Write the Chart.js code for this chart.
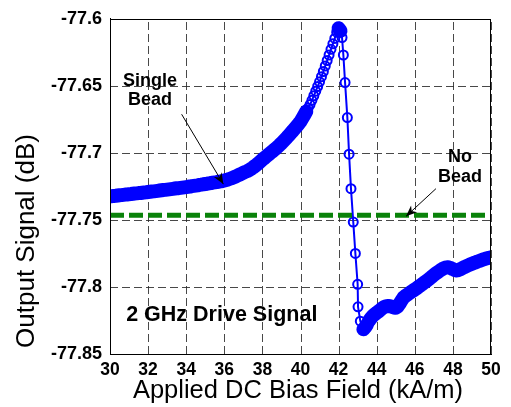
<!DOCTYPE html>
<html>
<head>
<meta charset="utf-8">
<script src="https://cdn.jsdelivr.net/npm/chart.js@4.4.1/dist/chart.umd.min.js"></script>
<style>
html,body{margin:0;padding:0;background:#ffffff;}
#wrap{width:511px;height:407px;position:relative;}
</style>
</head>
<body>
<div id="wrap"><canvas id="c" width="511" height="407"></canvas></div>
<script>
// ---- Data ----
// Applied DC bias field (kA/m)
const fieldX = [
  30.0,30.1,30.2,30.3,30.4,30.5,30.6,30.7,30.8,30.9,
  31.0,31.1,31.2,31.3,31.4,31.5,31.6,31.7,31.8,31.9,
  32.0,32.1,32.2,32.3,32.4,32.5,32.6,32.7,32.8,32.9,
  33.0,33.1,33.2,33.3,33.4,33.5,33.6,33.7,33.8,33.9,
  34.0,34.1,34.2,34.3,34.4,34.5,34.6,34.7,34.8,34.9,
  35.0,35.1,35.2,35.3,35.4,35.5,35.6,35.7,35.8,35.9,
  36.0,36.1,36.2,36.3,36.4,36.5,36.6,36.7,36.8,36.9,
  37.0,37.1,37.2,37.3,37.4,37.5,37.6,37.7,37.8,37.9,
  38.0,38.1,38.2,38.3,38.4,38.5,38.6,38.7,38.8,38.9,
  39.0,39.1,39.2,39.3,39.4,39.5,39.6,39.7,39.8,39.9,
  40.0,40.1,40.2,40.3,40.4,40.5,40.6,40.7,40.8,40.9,
  41.0,41.1,41.2,41.3,41.4,41.5,41.6,41.7,41.8,41.9,
  42.0,42.1,42.18,42.25,42.34,42.46,42.55,42.65,42.77,42.88,
  43.0,43.02,43.14,43.3,
  43.4,43.5,43.6,43.7,43.8,43.9,
  44.0,44.1,44.2,44.3,44.4,44.5,44.6,44.7,44.8,44.9,
  45.0,45.1,45.2,45.3,45.4,45.5,45.6,45.7,45.8,45.9,
  46.0,46.1,46.2,46.3,46.4,46.5,46.6,46.7,46.8,46.9,
  47.0,47.1,47.2,47.3,47.4,47.5,47.6,47.7,47.8,47.9,
  48.0,48.1,48.2,48.3,48.4,48.5,48.6,48.7,48.8,48.9,
  49.0,49.1,49.2,49.3,49.4,49.5,49.6,49.7,49.8,49.9,
  50.0
];
// Output signal with a single bead (dB)
const singleBeadDb = [
  -77.7324,-77.7323,-77.7321,-77.7320,-77.7318,-77.7316,-77.7315,-77.7313,-77.7311,-77.7310,
  -77.7308,-77.7307,-77.7305,-77.7303,-77.7302,-77.7300,-77.7299,-77.7297,-77.7295,-77.7294,
  -77.7292,-77.7290,-77.7288,-77.7287,-77.7285,-77.7283,-77.7281,-77.7279,-77.7277,-77.7276,
  -77.7274,-77.7272,-77.7270,-77.7268,-77.7266,-77.7264,-77.7263,-77.7261,-77.7259,-77.7257,
  -77.7255,-77.7253,-77.7251,-77.7248,-77.7246,-77.7244,-77.7242,-77.7239,-77.7237,-77.7234,
  -77.7232,-77.7230,-77.7227,-77.7225,-77.7222,-77.7220,-77.7218,-77.7215,-77.7213,-77.7210,
  -77.7206,-77.7202,-77.7198,-77.7193,-77.7188,-77.7182,-77.7176,-77.7169,-77.7162,-77.7155,
  -77.7148,-77.7142,-77.7136,-77.7128,-77.7120,-77.7110,-77.7099,-77.7088,-77.7076,-77.7063,
  -77.7050,-77.7039,-77.7027,-77.7015,-77.7003,-77.6992,-77.6980,-77.6968,-77.6955,-77.6942,
  -77.6928,-77.6913,-77.6898,-77.6883,-77.6867,-77.6851,-77.6835,-77.6818,-77.6801,-77.6784,
  -77.6766,-77.6742,-77.6717,-77.6692,-77.6666,-77.6640,-77.6608,-77.6574,-77.6540,-77.6505,
  -77.6470,-77.6432,-77.6393,-77.6352,-77.6311,-77.6270,-77.6228,-77.6187,-77.6146,-77.6100,
  -77.6070,-77.6090,-77.6140,-77.6270,-77.6476,-77.6737,-77.7010,-77.7267,-77.7516,-77.7750,
  -77.7980,-77.8148,-77.8255,-77.8316,
  -77.8300,-77.8278,-77.8252,-77.8232,-77.8216,-77.8203,
  -77.8193,-77.8182,-77.8170,-77.8158,-77.8149,-77.8143,-77.8142,-77.8144,-77.8148,-77.8153,
  -77.8155,-77.8145,-77.8125,-77.8102,-77.8080,-77.8068,-77.8058,-77.8048,-77.8038,-77.8028,
  -77.8019,-77.8009,-77.7999,-77.7988,-77.7978,-77.7967,-77.7957,-77.7946,-77.7935,-77.7923,
  -77.7911,-77.7900,-77.7890,-77.7880,-77.7870,-77.7862,-77.7856,-77.7853,-77.7855,-77.7860,
  -77.7867,-77.7873,-77.7877,-77.7874,-77.7867,-77.7859,-77.7852,-77.7845,-77.7839,-77.7833,
  -77.7827,-77.7821,-77.7816,-77.7810,-77.7805,-77.7800,-77.7795,-77.7790,-77.7786,-77.7782,
  -77.7779
];
// No-bead reference level (dB) across the field range
const noBeadX = [30, 50];
const noBeadDb = [-77.7466, -77.7466];

// Tick labels
const xTicks = [30,32,34,36,38,40,42,44,46,48,50];
const yTicks = [-77.85,-77.8,-77.75,-77.7,-77.65,-77.6];
const xTickLabels = ['30','32','34','36','38','40','42','44','46','48','50'];
const yTickLabels = ['-77.85','-77.8','-77.75','-77.7','-77.65','-77.6'];

// Texts
const xTitle = 'Applied DC Bias Field (kA/m)';
const yTitle = 'Output Signal (dB)';
const driveText = '2 GHz Drive Signal';

// Annotation anchor points in data units
const singleBeadNote = {lines:['Single','Bead'], x:32.1, y:[-77.6461,-77.6603], from:[33.76,-77.6712], to:[35.95,-77.7233]};
const noBeadNote = {lines:['No','Bead'], x:48.37, y:[-77.7034,-77.7180], from:[47.11,-77.7267], to:[45.54,-77.7473]};
const driveNote = {x:30.85, y:-77.8254};

const FONT = '"Liberation Sans", Arial, Helvetica, sans-serif';

function arrow(ctx, x1, y1, x2, y2) {
  ctx.save();
  ctx.strokeStyle = '#000';
  ctx.fillStyle = '#000';
  ctx.lineWidth = 1;
  ctx.beginPath();
  ctx.moveTo(x1, y1);
  ctx.lineTo(x2, y2);
  ctx.stroke();
  const a = Math.atan2(y2 - y1, x2 - x1);
  const L = 11, W = 4.5;
  ctx.beginPath();
  ctx.moveTo(x2, y2);
  ctx.lineTo(x2 - L*Math.cos(a) + W*Math.sin(a), y2 - L*Math.sin(a) - W*Math.cos(a));
  ctx.lineTo(x2 - 0.7*L*Math.cos(a), y2 - 0.7*L*Math.sin(a));
  ctx.lineTo(x2 - L*Math.cos(a) - W*Math.sin(a), y2 - L*Math.sin(a) + W*Math.cos(a));
  ctx.closePath();
  ctx.fill();
  ctx.restore();
}

const decorPlugin = {
  id: 'decor',
  beforeDatasetsDraw(chart) {
    // dashed grid lines at the scale ticks
    const ctx = chart.ctx;
    const xs = chart.scales.x, ys = chart.scales.y;
    const a = chart.chartArea;
    ctx.save();
    ctx.strokeStyle = 'rgba(40,40,40,0.85)';
    ctx.lineWidth = 1;
    ctx.setLineDash([8, 4]);
    xs.ticks.forEach(t => {
      const px = Math.round(xs.getPixelForValue(t.value)) + 0.5;
      ctx.beginPath(); ctx.moveTo(px, a.bottom); ctx.lineTo(px, a.top); ctx.stroke();
    });
    ys.ticks.forEach(t => {
      const py = Math.round(ys.getPixelForValue(t.value)) + 0.5;
      ctx.beginPath(); ctx.moveTo(a.left, py); ctx.lineTo(a.right, py); ctx.stroke();
    });
    ctx.restore();
  },
  afterDatasetsDraw(chart) {
    const ctx = chart.ctx;
    const xs = chart.scales.x, ys = chart.scales.y;
    const a = chart.chartArea;
    // frame
    ctx.save();
    ctx.strokeStyle = '#000';
    ctx.lineWidth = 1;
    ctx.setLineDash([]);
    ctx.strokeRect(Math.round(a.left) + 0.5, Math.round(a.top) + 0.5, Math.round(a.right - a.left) - 1, Math.round(a.bottom - a.top));
    ctx.restore();

    // annotations
    ctx.save();
    ctx.fillStyle = '#000';
    ctx.textAlign = 'center';
    ctx.textBaseline = 'middle';
    ctx.font = 'bold 18px ' + FONT;
    [singleBeadNote, noBeadNote].forEach(n => {
      n.lines.forEach((t, i) => ctx.fillText(t, xs.getPixelForValue(n.x), ys.getPixelForValue(n.y[i])));
      arrow(ctx, xs.getPixelForValue(n.from[0]), ys.getPixelForValue(n.from[1]),
                 xs.getPixelForValue(n.to[0]), ys.getPixelForValue(n.to[1]));
    });
    ctx.textAlign = 'left';
    ctx.textBaseline = 'alphabetic';
    ctx.font = 'bold 21.5px ' + FONT;
    ctx.fillText(driveText, xs.getPixelForValue(driveNote.x), ys.getPixelForValue(driveNote.y));
    ctx.restore();
  },
  afterDraw(chart) {
    const ctx = chart.ctx;
    ctx.save();
    ctx.fillStyle = '#000';
    ctx.font = '25.5px ' + FONT;
    ctx.textAlign = 'center';
    ctx.textBaseline = 'alphabetic';
    ctx.fillText(xTitle, 298, 398);
    ctx.translate(34, 241);
    ctx.rotate(-Math.PI / 2);
    ctx.font = '26px ' + FONT;
    ctx.fillText(yTitle, 0, 0);
    ctx.restore();
  }
};

const ctx = document.getElementById('c').getContext('2d');
new Chart(ctx, {
  type: 'scatter',
  data: {
    datasets: [
      {
        label: 'No Bead',
        data: noBeadX.map((x, i) => ({x: x, y: noBeadDb[i]})),
        showLine: true,
        borderColor: '#0a820a',
        borderWidth: 5,
        borderDash: [14, 5],
        pointRadius: 0,
        order: 0
      },
      {
        label: 'Single Bead',
        data: fieldX.map((x, i) => ({x: x, y: singleBeadDb[i]})),
        showLine: true,
        borderColor: '#0000ff',
        borderWidth: 2,
        borderCapStyle: 'round',
        borderJoinStyle: 'round',
        segment: {
          borderWidth: c => {
            const dx = c.p1.parsed.x - c.p0.parsed.x;
            const dy = Math.abs(c.p1.parsed.y - c.p0.parsed.y);
            return (dx < 0.15 && dy < 0.0026) ? 14 : 2;
          }
        },
        pointRadius: 4.5,
        pointBorderWidth: 2,
        pointBorderColor: '#0000ff',
        pointBackgroundColor: 'rgba(255,255,255,0)',
        order: 1
      }
    ]
  },
  options: {
    responsive: false,
    animation: false,
    devicePixelRatio: 1,
    layout: {padding: {top: 17, right: 20, left: 0, bottom: 0}},
    plugins: {legend: {display: false}, tooltip: {enabled: false}},
    scales: {
      x: {
        type: 'linear',
        min: 30, max: 50,
        afterBuildTicks: s => { s.ticks = xTicks.map(v => ({value: v})); },
        afterFit: s => { s.height = 53; },
        ticks: {
          autoSkip: false,
          maxRotation: 0,
          padding: 6,
          color: '#000',
          font: {family: FONT, size: 17.5, weight: 'bold'},
          callback: (v) => xTickLabels[xTicks.indexOf(v)] ?? String(v)
        },
        grid: {display: true, drawOnChartArea: false, drawTicks: false},
        border: {display: true, color: '#000', width: 1}
      },
      y: {
        type: 'linear',
        min: -77.85, max: -77.6,
        afterBuildTicks: s => { s.ticks = yTicks.map(v => ({value: v})); },
        afterFit: s => { s.width = 110; },
        ticks: {
          autoSkip: false,
          padding: 8,
          color: '#000',
          font: {family: FONT, size: 18, weight: 'bold'},
          callback: (v) => { const i = yTicks.findIndex(t => Math.abs(t - v) < 1e-9); return i >= 0 ? yTickLabels[i] : String(v); }
        },
        grid: {display: true, drawOnChartArea: false, drawTicks: false},
        border: {display: true, color: '#000', width: 1}
      }
    }
  },
  plugins: [decorPlugin]
});
</script>
</body>
</html>
